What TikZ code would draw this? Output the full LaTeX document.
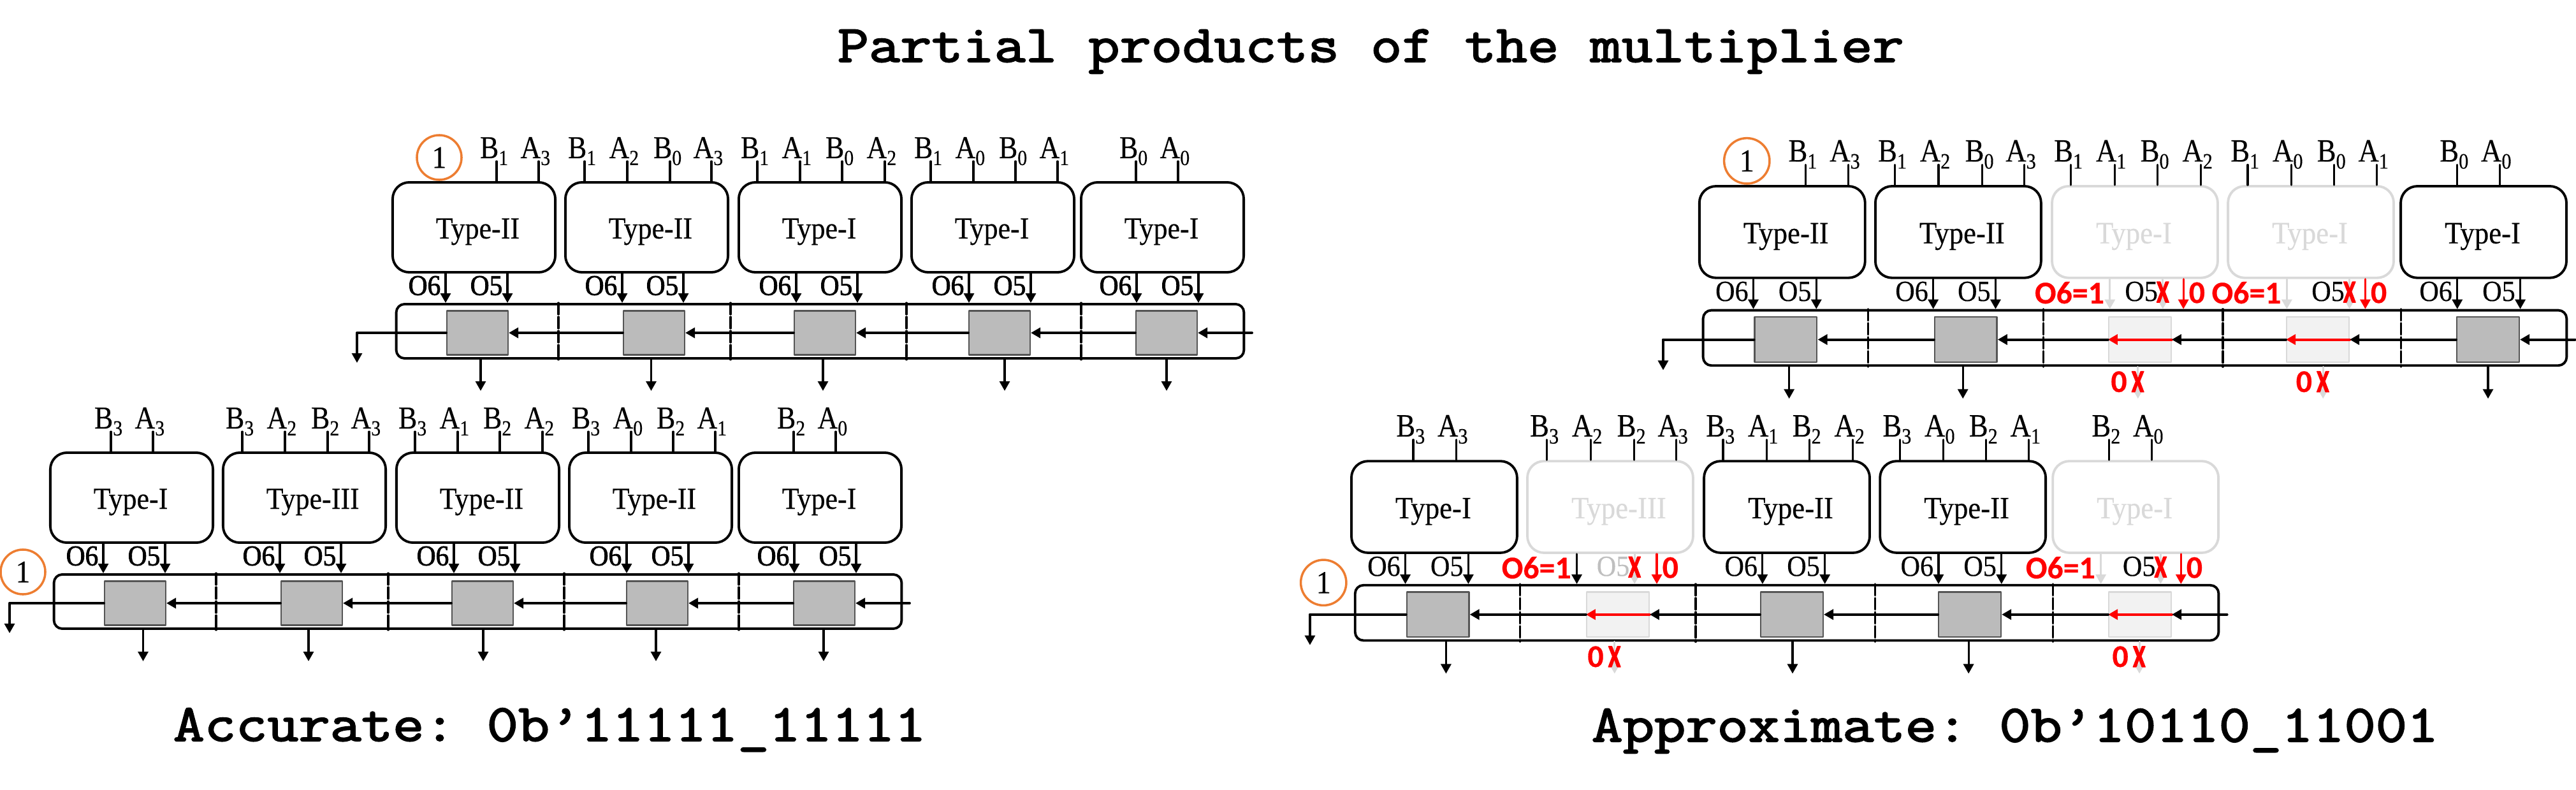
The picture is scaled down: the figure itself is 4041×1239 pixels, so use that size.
\documentclass[tikz,border=0pt]{standalone}
\usepackage{fontspec}
\usepackage{xcolor}
\usepackage{tikz}
\usetikzlibrary{arrows.meta}
\newfontfamily\cellfont[FakeStretch=0.92,FakeBold=0.3]{Liberation Serif}
\newfontfamily\pinfont[FakeStretch=0.88,FakeBold=0.3]{Liberation Serif}
\newfontfamily\oboldfont[FakeStretch=0.92,FakeBold=1.8]{Liberation Serif}
\newfontfamily\markfont[FakeBold=0.4]{Carlito}
\newfontfamily\crossfont[FakeStretch=0.7,FakeBold=2.5]{Carlito}
\newfontfamily\headfont[FakeStretch=1.161,FakeBold=2.6]{Latin Modern Mono}
\definecolor{ringorange}{HTML}{ED7D31}
\definecolor{fadegray}{HTML}{D9D9D9}
\definecolor{fadefill}{HTML}{F2F2F2}
\definecolor{regfill}{HTML}{BBBBBB}
\definecolor{regedge}{HTML}{555555}
\definecolor{otext}{HTML}{BFBFBF}
\newcommand{\subdig}[1]{\rlap{\raisebox{-3.1pt}{\fontsize{9.6pt}{10pt}\selectfont #1}}}
\tikzset{
  lutbox/.style={draw,line width=1.1pt,rounded corners=0.26cm,minimum width=2.55cm,minimum height=1.41cm,inner sep=0},
  chainbox/.style={draw,line width=1.1pt,rounded corners=0.13cm,minimum width=13.29cm,minimum height=0.85cm,inner sep=0},
  regbox/.style={draw=regedge,fill=regfill,line width=0.6pt,minimum width=0.96cm,minimum height=0.69cm,inner sep=0},
  lutname/.style={anchor=base west,inner sep=0,font=\cellfont\fontsize{13.6pt}{15pt}\selectfont},
  olabel/.style={anchor=east,inner sep=0,font=\cellfont\fontsize{12.8pt}{14pt}\selectfont},
  pinlabel/.style={anchor=base east,inner sep=0,font=\pinfont\fontsize{14.2pt}{15pt}\selectfont},
  ring/.style={circle,draw=ringorange,line width=1pt,minimum size=0.7cm,inner sep=0,font=\cellfont\fontsize{14pt}{15pt}\selectfont},
  redmark/.style={inner sep=0,text=red,font=\markfont\bfseries\fontsize{13.9pt}{15pt}\selectfont},
  redcross/.style={inner sep=0,text=red,font=\crossfont\bfseries\fontsize{13.9pt}{15pt}\selectfont},
  headline/.style={anchor=base west,inner sep=0,font=\headfont\fontsize{23.4pt}{26pt}\selectfont\frenchspacing},
  sigline/.style={line width=0.9pt},
  carryline/.style={line width=1.1pt},
  divider/.style={line width=0.9pt,dash pattern=on 0.18cm off 0.04cm},
  boldout/.style={olabel/.append style={font=\oboldfont\fontsize{12.8pt}{14pt}\selectfont}}
}
\newcommand{\slotgeo}[1]{\ifcase#1\or
  \def\lutleft{616}\def\regleft{701}\def\osix{699}\def\ofive{796}\or
  \def\lutleft{887}\def\regleft{978}\def\osix{976}\def\ofive{1072}\or
  \def\lutleft{1159}\def\regleft{1246}\def\osix{1249}\def\ofive{1345}\or
  \def\lutleft{1430}\def\regleft{1520}\def\osix{1520}\def\ofive{1617}\or
  \def\lutleft{1696}\def\regleft{1782}\def\osix{1783}\def\ofive{1880}\fi}
\newcommand{\chainrow}[3]{
  \node[chainbox] (chain) at (1286.5,519.5) {};
  \foreach \x in {876,1146,1422,1696}
    \draw[divider] (\x,0 |- chain.north)-- (\x,0 |- chain.south);
  \node[ring] (ring) at (#2,#3) {1};
  \coordinate (cbend) at (#1,522);
  \coordinate (cout) at (#1,569);
  \coordinate (cin) at (1964,522);
}
\newcommand{\rowlinks}{
  \foreach \a/\b in {1/2,2/3,3/4,4/5}
    \draw[carryline,->] (reg\b.west)-- (reg\a.east);
  \draw[carryline,->] (cin)-- (reg5.east);
  \draw[carryline] (reg1.west)-- (cbend);
  \draw[sigline,->] (cbend)-- (cout);
}
\newcommand{\lutcell}[3]{
  \slotgeo{#1}
  \node[lutbox] (lut#1) at ({\lutleft+127.5},356.5) {};
  \node[lutname] (name#1) at ({\lutleft+67},374) {#3};
  \node[regbox] (reg#1) at ({\regleft+48},522) {};
  \node[olabel] (osix#1) at ({\osix-7},448) {O6};
  \node[olabel] (ofive#1) at ({\ofive-7},448) {O5};
  \coordinate (sum#1) at (#2,613);
  \draw[sigline,->] (\osix,0 |- lut#1.south)-- (\osix,0 |- chain.north);
  \draw[sigline,->] (\ofive,0 |- lut#1.south)-- (\ofive,0 |- chain.north);
  \draw[sigline,->] (sum#1 |- chain.south)-- (sum#1);
}
\newcommand{\offcell}[8]{
  \slotgeo{#1}
  \node[lutbox,draw=fadegray] (lut#1) at ({\lutleft+127.5},356.5) {};
  \node[lutname,text=fadegray] (name#1) at ({\lutleft+67},374) {#3};
  \node[regbox,draw=fadegray,fill=fadefill] (reg#1) at ({\regleft+48},522) {};
  \node[redmark,anchor=east] (osix#1) at ({#4-8},450) {O6=1};
  \node[olabel,font=\cellfont\fontsize{12.8pt}{14pt}\selectfont,text=#8] (ofive#1) at ({#5-7},448) {O5};
  \coordinate (sum#1) at (#2,613);
  \coordinate (zero#1) at (#6,0);
  \draw[sigline,#7,->] (#4,0 |- lut#1.south)-- (#4,0 |- chain.north);
  \draw[sigline,fadegray,->] (#5,0 |- lut#1.south)-- (#5,0 |- chain.north);
  \draw[sigline,red,->] (zero#1 |- lut#1.south)-- (zero#1 |- chain.north);
  \draw[sigline,fadegray,->] (sum#1 |- chain.south)-- (sum#1);
  \draw[carryline,red,->] (reg#1.east)-- (reg#1.west);
  \node[redcross] (xfive#1) at (#5,449) {X};
  \node[redmark,anchor=west] (nought#1) at ({#6+8},450) {0};
  \node[redcross] (xsum#1) at (#2,587) {X};
  \node[redmark] (nsum#1) at ({#2-29},587) {0};
}
\newcommand{\pinset}[2]{
  \foreach \x/\s/\k in {#2}{
    \coordinate (pin\x) at (\x,253);
    \node[pinlabel] (lbl\x) at ({\x+4},248) {\s\subdig{\k}};
    \draw[sigline] (pin\x)-- (pin\x |- #1.north);
  }
}
\newcommand{\toppins}{
  \pinset{lut1}{779/B/1,845/A/3}
  \pinset{lut2}{917/B/1,984/A/2,1051/B/0,1116/A/3}
  \pinset{lut3}{1188/B/1,1255/A/1,1321/B/0,1388/A/2}
  \pinset{lut4}{1460/B/1,1527/A/0,1593/B/0,1659/A/1}
  \pinset{lut5}{1782/B/0,1848/A/0}
}
\newcommand{\lowpins}{
  \pinset{lut1}{711/B/3,777/A/3}
  \pinset{lut2}{917/B/3,984/A/2,1051/B/2,1116/A/3}
  \pinset{lut3}{1188/B/3,1255/A/1,1321/B/2,1388/A/2}
  \pinset{lut4}{1460/B/3,1527/A/0,1593/B/2,1659/A/1}
  \pinset{lut5}{1782/B/2,1848/A/0}
}
\begin{document}
\begin{tikzpicture}[line cap=round,line join=round,>={Triangle[length=0.15cm,width=0.16cm]},x=0.01cm,y=-0.01cm]
\useasboundingbox (0,0) rectangle (4041,1239);
\node[headline] (title) at (1313,97) {Partial products of the multiplier};
\node[headline] (accurate) at (271,1162) {Accurate: 0b’11111\_11111};
\node[headline] (approx) at (2496,1163) {Approximate: 0b’10110\_11001};

\begin{scope}[name prefix=tl-,boldout]
\chainrow{560}{689}{247}
\lutcell{1}{754}{Type-II}
\lutcell{2}{1021.5}{Type-II}
\lutcell{3}{1291}{Type-I}
\lutcell{4}{1576}{Type-I}
\lutcell{5}{1830}{Type-I}
\rowlinks
\toppins
\end{scope}

\begin{scope}[name prefix=bl-,boldout,shift={(-537,424)}]
\chainrow{552}{573}{473}
\lutcell{1}{761.5}{Type-I}
\lutcell{2}{1021}{Type-III}
\lutcell{3}{1295}{Type-II}
\lutcell{4}{1566}{Type-II}
\lutcell{5}{1829}{Type-I}
\rowlinks
\lowpins
\end{scope}

\begin{scope}[name prefix=tr-,shift={(2038.4,0.7)},scale=1.0187,transform shape]
\chainrow{560}{689}{247}
\lutcell{1}{754}{Type-II}
\lutcell{2}{1021.5}{Type-II}
\offcell{3}{1291}{Type-I}{1248}{1329.5}{1361}{fadegray}{black}
\offcell{4}{1576}{Type-I}{1520.5}{1617}{1641}{fadegray}{black}
\lutcell{5}{1830}{Type-I}
\rowlinks
\toppins
\end{scope}

\begin{scope}[name prefix=br-,shift={(1492.5,431.9)},scale=1.0187,transform shape]
\chainrow{552}{573}{473}
\lutcell{1}{761.5}{Type-I}
\offcell{2}{1021}{Type-III}{963}{1052}{1086}{black}{otext}
\lutcell{3}{1295}{Type-II}
\lutcell{4}{1566}{Type-II}
\offcell{5}{1829}{Type-I}{1770}{1862}{1893}{fadegray}{black}
\rowlinks
\lowpins
\end{scope}
\end{tikzpicture}
\end{document}
